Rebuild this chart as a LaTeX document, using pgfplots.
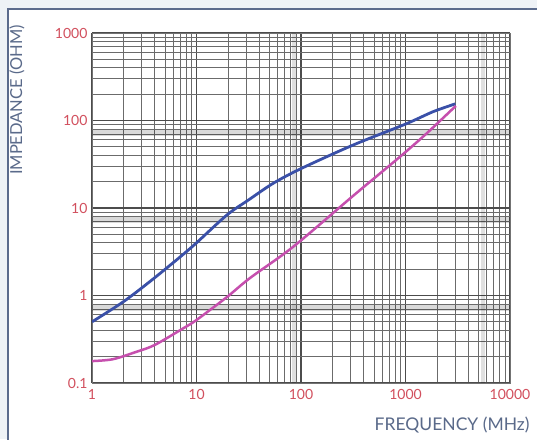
\documentclass[border=0pt]{standalone}
\usepackage{pgfplots}
\pgfplotsset{compat=1.18}
\usepackage{fontspec}
\setmainfont{Lato}
\definecolor{framec}{HTML}{5B6B8C}
\definecolor{bgc}{HTML}{EEF2F6}
\definecolor{tickc}{HTML}{D2505E}
\definecolor{labc}{HTML}{5A6A8A}
\definecolor{bluec}{HTML}{3A50A8}
\definecolor{magc}{HTML}{C64FAE}
\begin{document}
\begin{tikzpicture}[x=1pt,y=1pt]
\useasboundingbox (0,0) rectangle (537,439);
\fill[bgc] (0,0) rectangle (537,439);
\filldraw[fill=white, draw=framec, line width=2.5pt] (8,-20) rectangle (560,430);
\begin{axis}[
  at={(92pt,56pt)}, anchor=south west, scale only axis,
  width=418pt, height=350pt,
  xmode=log, ymode=log, xmin=1, xmax=10000, ymin=0.1, ymax=1000,
  xtick={1,10,100,1000,10000}, xticklabels={1,10,100,1000,10000},
  ytick={0.1,1,10,100,1000}, yticklabels={0.1,1,10,100,1000},
  extra y ticks={0.72,7.2,72}, extra y tick labels={},
  extra y tick style={major grid style={black, opacity=0.15, line width=6pt}},
  extra x ticks={85,5500}, extra x tick labels={},
  extra x tick style={major grid style={black, opacity=0.12, line width=4pt}},
  grid=both,
  major grid style={black!70, line width=1.1pt},
  minor grid style={black!58, line width=0.9pt},
  tick style={draw=none},
  axis line style={black!55, line width=0.9pt},
  tick label style={font=\fontsize{14}{16}\selectfont, text=tickc},
  /pgf/number format/assume math mode=true,
  xticklabel style={yshift=-3pt},
  yticklabel style={xshift=-1pt},
]
\addplot[bluec, line width=2.8pt, smooth] table {
1 0.50
2 0.85
3.73 1.5
7 2.77
10 4.0
19.5 8.3
31.6 12.4
54 19.1
100 28.2
316 52.5
1000 91
1833 126
3000 155
};
\addplot[magc, line width=2.5pt, smooth] table {
1 0.178
1.585 0.187
2.68 0.228
3.98 0.272
7.48 0.422
10 0.525
19.45 0.955
32.4 1.58
84.3 3.61
316 13.8
885 38.5
1585 70.8
2864 137.7
3000 144.5
};
\end{axis}
\node[rotate=90, text=labc, font=\fontsize{16.5}{18}\selectfont] at (17,339) {IMPEDANCE (OHM)};
\node[text=labc, font=\fontsize{17.5}{19}\selectfont, anchor=east] at (533,14) {FREQUENCY (MHz)};
\end{tikzpicture}
\end{document}
